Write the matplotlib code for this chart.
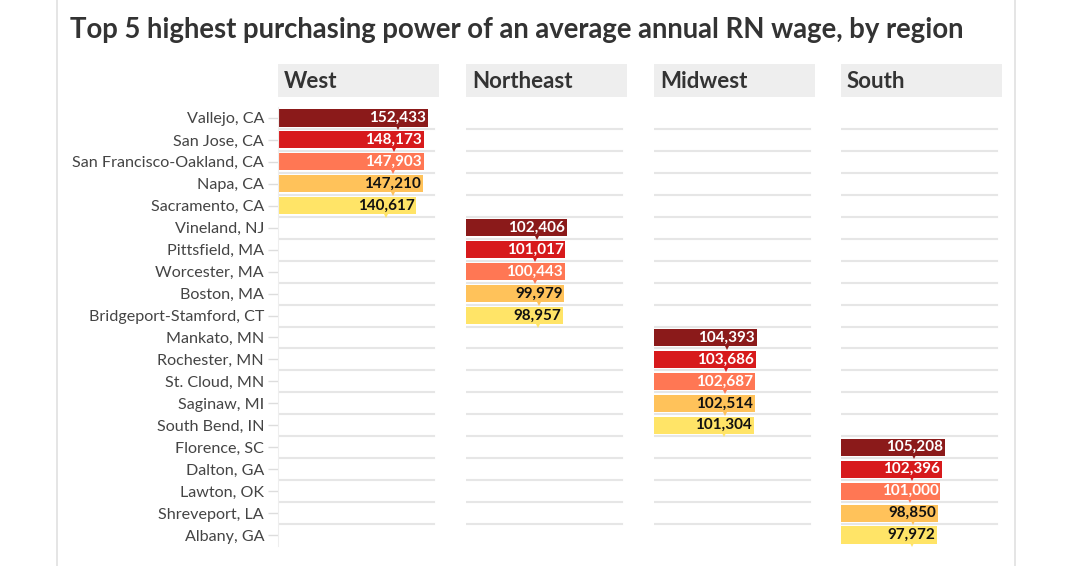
import matplotlib
matplotlib.use('Agg')
import matplotlib.pyplot as plt
from matplotlib.patches import Rectangle
from matplotlib.lines import Line2D

plt.rcParams['font.family'] = ['Lato', 'DejaVu Sans']

regions = ['West', 'Northeast', 'Midwest', 'South']
cities = [
    ['Vallejo, CA', 'San Jose, CA', 'San Francisco-Oakland, CA', 'Napa, CA', 'Sacramento, CA'],
    ['Vineland, NJ', 'Pittsfield, MA', 'Worcester, MA', 'Boston, MA', 'Bridgeport-Stamford, CT'],
    ['Mankato, MN', 'Rochester, MN', 'St. Cloud, MN', 'Saginaw, MI', 'South Bend, IN'],
    ['Florence, SC', 'Dalton, GA', 'Lawton, OK', 'Shreveport, LA', 'Albany, GA'],
]
values = [
    [152433, 148173, 147903, 147210, 140617],
    [102406, 101017, 100443, 99979, 98957],
    [104393, 103686, 102687, 102514, 101304],
    [105208, 102396, 101000, 98850, 97972],
]
rank_colors = ['#8b1a1a', '#d71a1c', '#ff7754', '#ffc25a', '#ffe467']
label_colors = ['white', 'white', 'white', '#111111', '#111111']

W, H = 1080, 566
fig = plt.figure(figsize=(W / 100, H / 100), dpi=100)
fig.patch.set_facecolor('white')

# card borders
for xp in (57, 1015):
    fig.add_artist(Line2D([xp / W, xp / W], [0, 1], color='#e0e0e0', lw=1.2))

fig.text(70 / W, 1 - 30 / H, 'Top 5 highest purchasing power of an average annual RN wage, by region',
         fontsize=19.8, fontweight='bold', color='#333333', va='center', ha='left')

all_cities = [c for grp in cities for c in grp]
n = len(all_cities)
panel_left = [278, 466, 654, 841]
panel_w = 161
top_px, bot_px = 107, 546
xmax = 163600

labels = []
for p, region in enumerate(regions):
    # header box
    fig.add_artist(Rectangle((panel_left[p] / W, 1 - 97 / H), panel_w / W, 33 / H,
                             transform=fig.transFigure, facecolor='#eeeeee', edgecolor='none'))
    fig.text((panel_left[p] + 6) / W, 1 - 81 / H, region, fontsize=16, fontweight='bold',
             color='#333333', va='center', ha='left')

    ax = fig.add_axes([panel_left[p] / W, 1 - bot_px / H, panel_w / W, (bot_px - top_px) / H])
    ax.set_xlim(0, xmax)
    ax.set_ylim(n - 0.5, -0.5)
    for s in ax.spines.values():
        s.set_visible(False)
    ax.set_xticks([])
    for i in range(n - 1):
        ax.axhline(i + 0.5, xmin=0.005, xmax=0.97, color='#e6e6e6', lw=1.5, zorder=0)

    rows = [all_cities.index(c) for c in cities[p]]
    ax.barh(rows, values[p], height=0.78, color=rank_colors, zorder=2)
    for r, v, lc, bc in zip(rows, values[p], label_colors, rank_colors):
        t = ax.text(v - 1800, r, f'{v:,}', ha='right', va='center', fontsize=11,
                    fontweight='bold', color=lc, zorder=3)
        labels.append((ax, t, r, bc))

    if p == 0:
        ax.set_yticks(range(n))
        ax.set_yticklabels(all_cities, fontsize=11.6, color='#444444')
        ax.tick_params(axis='y', length=7, color='#dddddd', width=1, pad=3)
        ax.spines['left'].set_visible(True)
        ax.spines['left'].set_color('#eeeeee')
    else:
        ax.set_yticks([])

# small callout pointer under each value label
fig.canvas.draw()
renderer = fig.canvas.get_renderer()
for ax, t, r, bc in labels:
    bb = t.get_window_extent(renderer)
    cx = ax.transData.inverted().transform(((bb.x0 + bb.x1) / 2, 0))[0]
    ax.plot(cx, r + 0.42, marker='v', markersize=4.5, color=bc, markeredgewidth=0, zorder=2)

fig.savefig('out.png', dpi=100, facecolor='white')
